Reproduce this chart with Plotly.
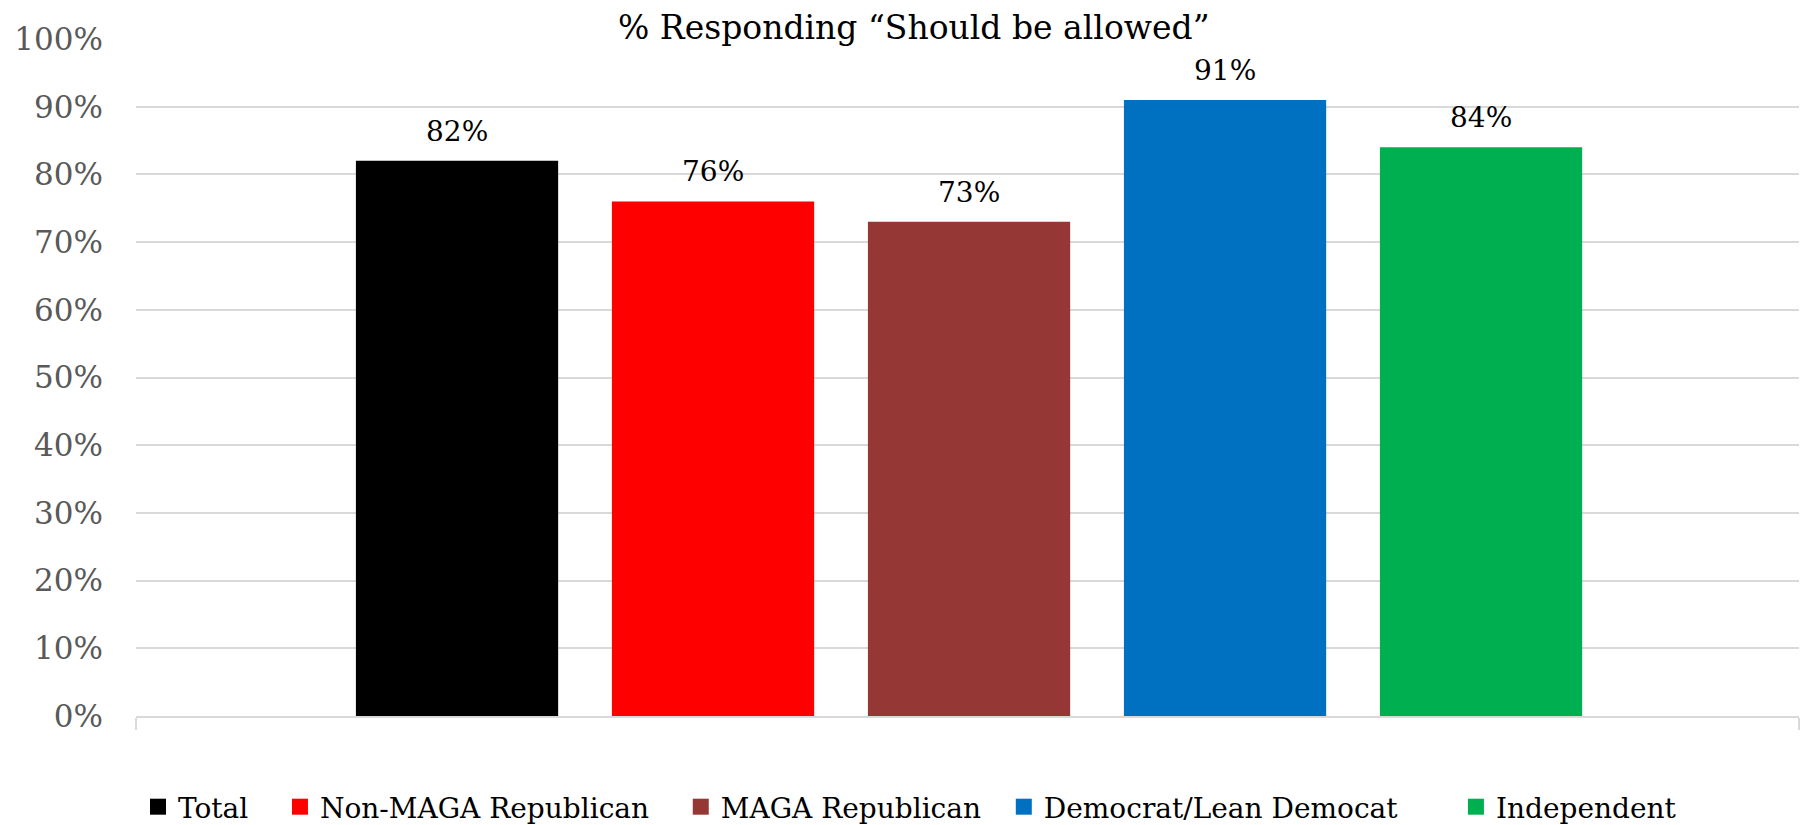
import plotly.graph_objects as go

categories = ["Total", "Non-MAGA Republican", "MAGA Republican", "Democrat/Lean Democat", "Independent"]
values = [0.82, 0.76, 0.73, 0.91, 0.84]
colors = ["#000000", "#FF0000", "#953735", "#0070C0", "#00B050"]
title_text = "% Responding \u201cShould be allowed\u201d"
legend_pad = [3, 3, 2, 6, 0]

FONT = "DejaVu Serif, serif"
NB = "\u00a0"

# page body has an 8px margin, so the figure is 8px smaller than the window
W, H = 1800, 817
L, T = 128, 31
PW, PH = 1663, 677

fig = go.Figure()
positions = list(range(len(categories)))
for i, (name, v, c) in enumerate(zip(categories, values, colors)):
    fig.add_trace(go.Bar(x=[positions[i]], y=[v], name=name, marker=dict(color=c, line=dict(width=0)),
                         width=0.79, hoverinfo="skip", showlegend=False))
    fig.add_annotation(x=positions[i], y=v, text=f"{round(v*100)}%", showarrow=False,
                       yanchor="bottom", yshift=11, font=dict(family=FONT, size=28, color="#000000"))
for i, (name, c) in enumerate(zip(categories, colors)):
    fig.add_trace(go.Scatter(x=[None], y=[None], mode="markers", name=name + NB * legend_pad[i],
                             marker=dict(symbol="square", size=17, color=c), showlegend=True))

xmin, xmax = -1.254, len(categories) - 1 + 1.242
fig.update_layout(
    width=W, height=H,
    margin=dict(l=L, r=W - L - PW, t=T, b=H - T - PH, autoexpand=False),
    paper_bgcolor="white", plot_bgcolor="white",
    barmode="overlay",
    showlegend=True,
    legend=dict(orientation="h", xref="container", x=902 / W, xanchor="center", yref="paper", y=-91 / PH,
                yanchor="middle", font=dict(family=FONT, size=28, color="#000000"),
                itemwidth=30, traceorder="normal", itemsizing="trace"),
    font=dict(family=FONT),
)
fig.add_annotation(xref="paper", yref="paper", x=(906 - L) / PW, y=1.0, yshift=12, text=title_text,
                   showarrow=False, yanchor="middle",
                   font=dict(family=FONT, size=33, color="#000000"))
fig.update_xaxes(range=[xmin, xmax], showgrid=False, zeroline=False, showline=True, linecolor="#d9d9d9",
                 linewidth=2, tickvals=[xmin, xmax], ticktext=["", ""], ticks="outside", ticklen=12,
                 tickcolor="#d9d9d9", tickwidth=2, automargin=False)
fig.update_yaxes(range=[0, 1], dtick=0.1, tickformat=".0%", showgrid=True, gridcolor="#d9d9d9", gridwidth=2,
                 zeroline=False, showline=False, ticks="", ticklabelstandoff=32, automargin=False,
                 tickfont=dict(family=FONT, size=31, color="#595959"))

fig.write_html("out.html")
